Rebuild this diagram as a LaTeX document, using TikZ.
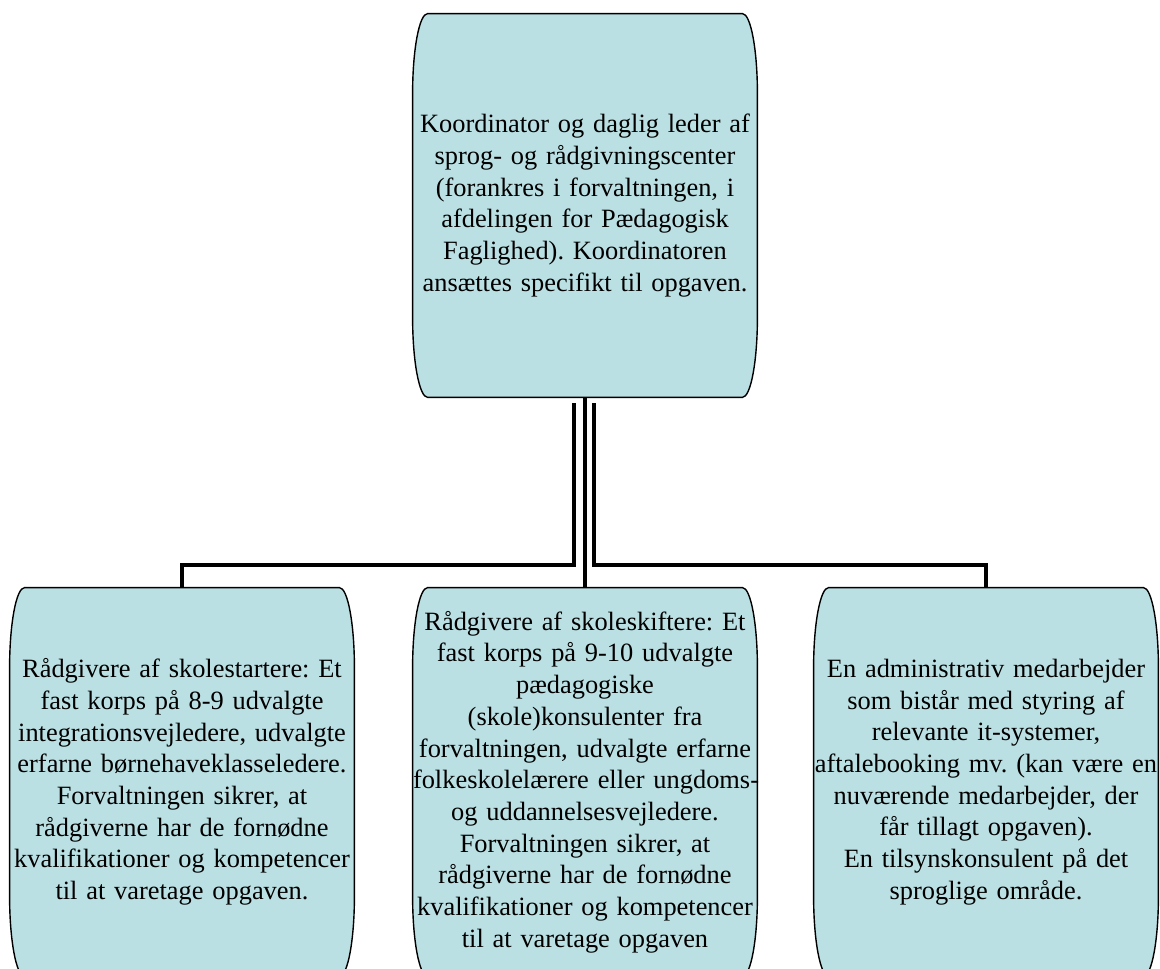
\documentclass[tikz,border=0pt]{standalone}
\usepackage{fontspec}
\setmainfont{Liberation Serif}
\usetikzlibrary{calc,backgrounds}
\definecolor{boksblaa}{HTML}{BBE0E3}
\frenchspacing

\begin{document}
\begin{tikzpicture}[x=0.5pt,y=0.5pt,
    boks/.style={minimum width=172pt, minimum height=194pt, text width=172pt,
        inner sep=0pt, align=center, font=\fontsize{13.2pt}{15.85pt}\selectfont},
    kant/.style={draw=black, line width=0.7pt, fill=boksblaa},
    streg/.style={draw=black, line width=2.2pt}]
            \useasboundingbox (0,0) rectangle (1160,968);

            \node[boks, minimum height=191.5pt] (top) at (585,762.5)
                {Koordinator og daglig leder af\\
                 sprog- og rådgivningscenter\\
                 (forankres i forvaltningen, i\\
                 afdelingen for Pædagogisk\\
                 Faglighed). Koordinatoren\\
                 ansættes specifikt til opgaven.};

            \node[boks] (venstre) at (182,186)
                {Rådgivere af skolestartere: Et\\
                 fast korps på 8-9 udvalgte\\
                 integrationsvejledere, udvalgte\\
                 erfarne børnehaveklasseledere.\\
                 Forvaltningen sikrer, at\\
                 rådgiverne har de fornødne\\
                 kvalifikationer og kompetencer\\
                 til at varetage opgaven.};

            \node[boks] (midt) at (585,186)
                {Rådgivere af skoleskiftere: Et\\
                 fast korps på 9-10 udvalgte\\
                 pædagogiske\\
                 (skole)konsulenter fra\\
                 forvaltningen, udvalgte erfarne\\
                 \mbox{folkeskolelærere eller ungdoms-}\\
                 og uddannelsesvejledere.\\
                 Forvaltningen sikrer, at\\
                 rådgiverne har de fornødne\\
                 kvalifikationer og kompetencer\\
                 til at varetage opgaven};

            \node[boks] (hoejre) at (986,186)
                {En administrativ medarbejder\\
                 som bistår med styring af\\
                 relevante it-systemer,\\
                 aftalebooking mv. (kan være en\\
                 nuværende medarbejder, der\\
                 får tillagt opgaven).\\
                 En tilsynskonsulent på det\\
                 sproglige område.};

            % bokse med buede hjoerner bag teksten
            \begin{scope}[on background layer]
                \foreach \n in {top,venstre,midt,hoejre}
                    \path[kant] ($(\n.north west)+(15,0)$) -- ($(\n.north east)+(-15,0)$)
                        arc[start angle=90, end angle=0, x radius=15, y radius=80]
                        -- ($(\n.south east)+(0,80)$)
                        arc[start angle=0, end angle=-90, x radius=15, y radius=80]
                        -- ($(\n.south west)+(15,0)$)
                        arc[start angle=270, end angle=180, x radius=15, y radius=80]
                        -- ($(\n.north west)+(0,-80)$)
                        arc[start angle=180, end angle=90, x radius=15, y radius=80]
                        -- cycle;
            \end{scope}

            % forbindelser
            \coordinate (skinne) at (0,403);
            \coordinate (vstart) at ($(top.south)+(-11,-6)$);
            \coordinate (hstart) at ($(top.south)+(9,-6)$);
            \draw[streg] (top.south) -- (midt.north);
            \draw[streg] (vstart) -- (vstart |- skinne) -| (venstre.north);
            \draw[streg] (hstart) -- (hstart |- skinne) -| (hoejre.north);
        \end{tikzpicture}
\end{document}
